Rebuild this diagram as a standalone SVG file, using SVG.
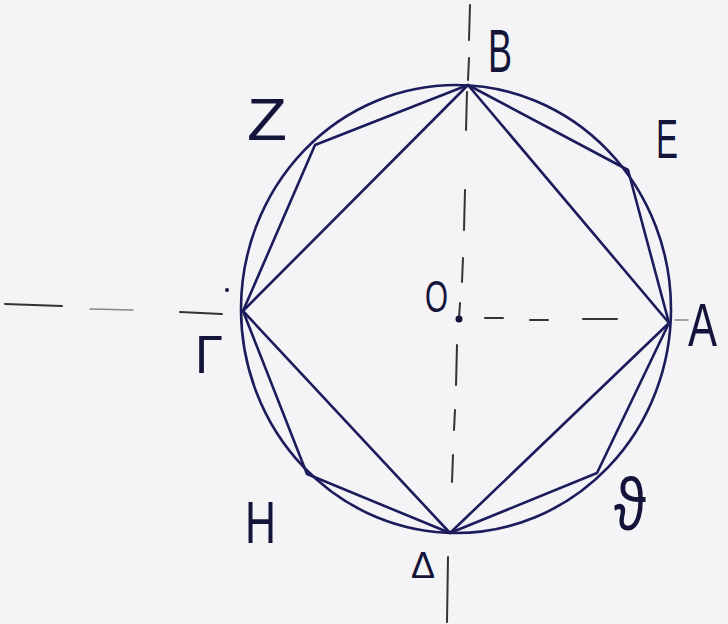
<svg xmlns="http://www.w3.org/2000/svg" width="728" height="624" viewBox="0 0 728 624">
<style>
.ln{stroke:#1c1b5c;stroke-width:2.6;fill:none;stroke-linecap:round;stroke-linejoin:round}
.ax{stroke:#333;stroke-width:2;fill:none;stroke-linecap:round}
.fa{stroke:#888;stroke-width:1.6;fill:none;stroke-linecap:round}
.lb{font-family:"Liberation Sans","DejaVu Sans",sans-serif;fill:#14143a}
</style>
<rect width="728" height="624" fill="#f4f4f6"/>
<g id="axes">
<path class="ax" d="M5,304 L62,306 M180,312 L222,314 M485,318 L503,318 M530,320 L548,320 M583,319 L617,319"/>
<path class="fa" d="M90,309 L133,310 M675,320 L688,320"/>
<path class="ax" d="M470,5 L469,40 M469,58 L468,80 M467,92 L466,130 M465,190 L464,230 M463,258 L462,282 M460,303 L459,318 M457,345 L456,385 M455,410 L454,430 M453,455 L452,482 M448,557 L447,622"/>
</g>
<g id="circle">
<ellipse class="ln" cx="456" cy="309" rx="215" ry="224"/>
</g>
<g id="connectors">
<polygon class="ln" points="468,85 669,323 450,533 243,311"/>
<polygon class="ln" points="468,85 628,170 669,323 597,473 450,533 307,474 243,311 315,145"/>
</g>
<g id="center">
<circle cx="459" cy="319" r="3.5" fill="#14143a"/>
<circle cx="227" cy="290" r="2" fill="#14143a"/>
</g>
<g id="labels">
<text id="B" class="lb" x="488" y="72" font-size="61" textLength="24" lengthAdjust="spacingAndGlyphs">B</text>
<text id="Z" class="lb" x="247" y="140" font-size="60" textLength="40" lengthAdjust="spacingAndGlyphs">Z</text>
<text id="E" class="lb" x="656" y="158" font-size="56" textLength="22" lengthAdjust="spacingAndGlyphs">E</text>
<text id="A" class="lb" x="688" y="346" font-size="62" textLength="29" lengthAdjust="spacingAndGlyphs">A</text>
<text id="O" class="lb" x="425" y="312" font-size="44" textLength="23" lengthAdjust="spacingAndGlyphs">O</text>
<text id="G" class="lb" x="195" y="373" font-size="53" textLength="28" lengthAdjust="spacingAndGlyphs">Γ</text>
<text id="H" class="lb" x="245" y="543" font-size="60" textLength="31" lengthAdjust="spacingAndGlyphs">H</text>
<text id="D" class="lb" x="411" y="578" font-size="36" textLength="24" lengthAdjust="spacingAndGlyphs">Δ</text>
<text id="TH" class="lb" x="614" y="530" font-size="74" textLength="32" lengthAdjust="spacingAndGlyphs">ϑ</text>
</g>
</svg>
